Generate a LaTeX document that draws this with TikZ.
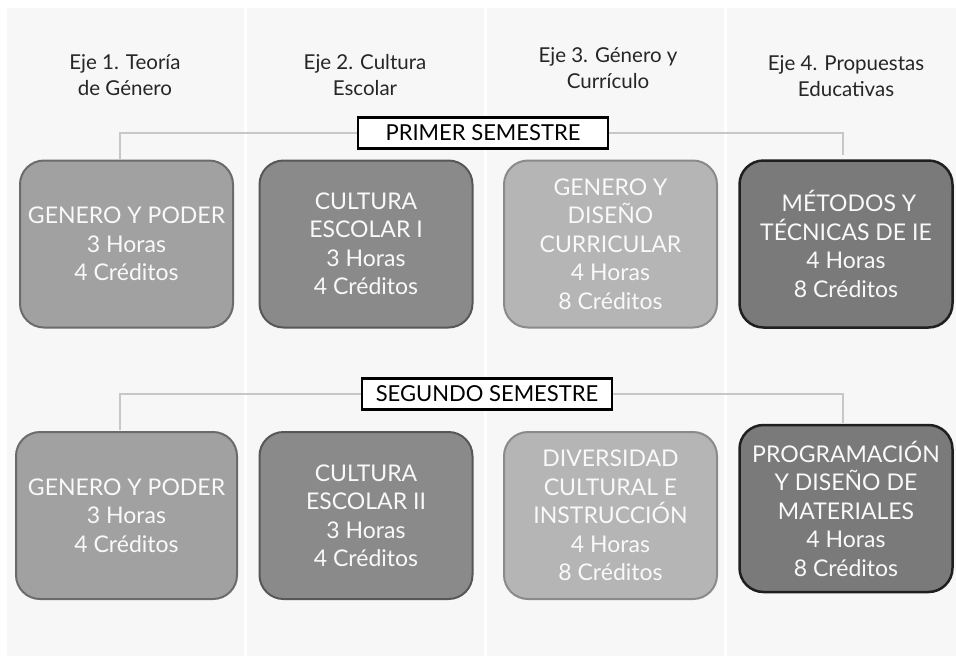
\documentclass[tikz,border=0pt]{standalone}
\usepackage{fontspec}
\setmainfont{Lato}
\begin{document}
\begin{tikzpicture}[x=1pt,y=-1pt,
  colbg/.style={fill=gray!6,draw=none},
  course/.style={rounded corners=24pt,line width=2pt,minimum width=213pt,minimum height=167pt,
     align=center,text=white!95!gray,font=\fontsize{23}{28.5}\selectfont,inner sep=1pt},
  c1/.style={course,fill=black!37,draw=black!58},
  c2/.style={course,fill=black!46,draw=black!66},
  c3/.style={course,fill=black!29,draw=black!46},
  c4/.style={course,fill=black!52,draw=black!88,line width=2.5pt},
  sem/.style={draw=black,line width=2.2pt,fill=white,font=\fontsize{22}{26}\selectfont,minimum width=250pt,minimum height=31pt,inner sep=2pt},
  head/.style={align=center,text=black!85,font=\fontsize{20.5}{26.5}\selectfont},
  link/.style={draw=black!22,line width=2pt}]
\useasboundingbox (0,0) rectangle (956,657);
\fill[white] (0,0) rectangle (956,657);
\path[colbg] (7,8) rectangle (244,656);
\path[colbg] (247,8) rectangle (484,656);
\path[colbg] (487,8) rectangle (724,656);
\path[colbg] (727,8) rectangle (956,656);

\node[head] (h1) at (125,75) {Eje 1. Teoría\\de Género};
\node[head] (h2) at (365,75) {Eje 2. Cultura\\Escolar};
\node[head] (h3) at (608,68) {Eje 3. Género y\\Currículo};
\node[head] (h4) at (846,76) {Eje 4. Propuestas\\Educativas};

\node[c1] (b1) at (126.5,244) {GENERO Y PODER\\3 Horas\\4 Créditos};
\node[c2] (b2) at (366,244) {CULTURA\\ESCOLAR I\\3 Horas\\4 Créditos};
\node[c3] (b3) at (610.5,244) {GENERO Y\\DISEÑO\\CURRICULAR\\4 Horas\\8 Créditos};
\node[c4] (b4) at (846,244) {\ MÉTODOS Y\\TÉCNICAS DE IE\\4 Horas\\8 Créditos};

\node[c1,minimum width=221pt] (b5) at (126.5,515.5) {GENERO Y PODER\\3 Horas\\4 Créditos};
\node[c2] (b6) at (366,515.5) {CULTURA\\ESCOLAR II\\3 Horas\\4 Créditos};
\node[c3] (b7) at (610.5,515.5) {DIVERSIDAD\\CULTURAL E\\INSTRUCCIÓN\\4 Horas\\8 Créditos};
\node[c4] (b8) at (846,508.5) {PROGRAMACIÓN\\Y DISEÑO DE\\MATERIALES\\4 Horas\\8 Créditos};

\node[sem] (s1) at (483,133) {PRIMER SEMESTRE};
\node[sem] (s2) at (487,394) {SEGUNDO SEMESTRE};

\coordinate (p1) at (120,160);
\coordinate (p2) at (843,155);
\coordinate (p5) at (120,430);
\coordinate (p8) at (843,423);
\draw[link] (s1.west) -| (p1);
\draw[link] (s1.east) -| (p2);
\draw[link] (s2.west) -| (p5);
\draw[link] (s2.east) -| (p8);
\end{tikzpicture}
\end{document}
